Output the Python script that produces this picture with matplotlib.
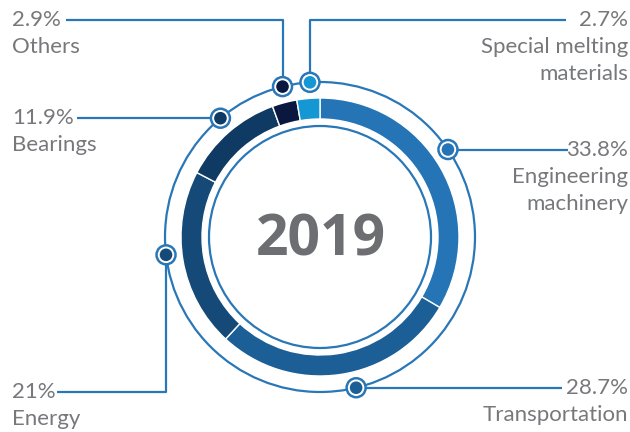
import numpy as np
import matplotlib
matplotlib.use("Agg")
import matplotlib.pyplot as plt
from matplotlib.patches import Circle

# ---- data ----
categories = ["Engineering\nmachinery", "Transportation", "Energy", "Bearings", "Others",
              "Special melting\nmaterials"]
values = [33.8, 28.7, 21.0, 11.9, 2.9, 2.7]
pct_labels = ["33.8%", "28.7%", "21%", "11.9%", "2.9%", "2.7%"]
year = "2019"

colors = ["#2574b5", "#1c5f96", "#154a78", "#0e3a63", "#0a1840", "#1597d4"]
line_col = "#2a77b7"
text_col = "#77787b"

W, H = 630, 432
fig = plt.figure(figsize=(W / 100, H / 100), dpi=100)
ax = fig.add_axes([0, 0, 1, 1])

cx, cy = 320, H - 237
R_ring, ring_w = 139, 21
R_outer, R_inner = 155, 111

ax.pie(values, radius=R_ring, center=(cx, cy), startangle=90, counterclock=False,
       colors=colors, frame=True,
       wedgeprops=dict(width=ring_w, edgecolor="white", linewidth=1.0))

ax.add_patch(Circle((cx, cy), R_outer, fill=False, edgecolor=line_col, lw=1.6, zorder=3))
ax.add_patch(Circle((cx, cy), R_inner, fill=False, edgecolor=line_col, lw=1.6, zorder=3))

ax.text(cx + 1, cy - 3, year, ha="center", va="center", fontsize=41, fontweight="bold",
        color="#6d6e71", family=["Open Sans", "DejaVu Sans"])

# marker angles: segment midpoints (small layout nudges)
fr = np.array(values) / np.sum(values) * 360.0
ends = 90 - np.cumsum(fr)
starts = ends + fr
mids = (starts + ends) / 2
nudge = [4.6, 5.1, -3.2, -1.2, -0.8, -1.1]

# layout: (text x, text y (px from top), ha, corner route)
layout = [
    (628, 148, "right", "h"),
    (628, 387, "right", "h"),
    (12, 392, "left", "v"),
    (12, 117, "left", "h"),
    (12, 20, "left", "v"),
    (628, 20, "right", "v"),
]
line_end = [568, 562, 57, 77, 66, 566]

font = ["Lato", "DejaVu Sans"]
fs = 16
lh = 27
for i, (cat, pl) in enumerate(zip(categories, pct_labels)):
    a = np.deg2rad(mids[i] + nudge[i])
    mx, my = cx + R_outer * np.cos(a), cy + R_outer * np.sin(a)
    tx, ty, ha, route = layout[i]
    tyd = H - ty
    if route == "h":
        xs, ys = [mx, line_end[i]], [my, my]
        tyd = my
    else:
        xs, ys = [mx, mx, line_end[i]], [my, tyd, tyd]
    ax.plot(xs, ys, color=line_col, lw=1.6, zorder=4, solid_capstyle="butt")
    ax.add_patch(Circle((mx, my), 9.5, facecolor="white", edgecolor=line_col, lw=1.8, zorder=5))
    ax.add_patch(Circle((mx, my), 6.3, facecolor=colors[i], edgecolor="none", zorder=6))
    ax.text(tx, tyd, pl, ha=ha, va="center", fontsize=fs, color=text_col, family=font)
    for k, line in enumerate(cat.split("\n")):
        ax.text(tx, tyd - lh * (k + 1), line, ha=ha, va="center", fontsize=fs,
                color=text_col, family=font)

ax.set_xlim(0, W)
ax.set_ylim(0, H)
ax.set_aspect("equal")
ax.axis("off")
fig.savefig("out.png", dpi=100)
